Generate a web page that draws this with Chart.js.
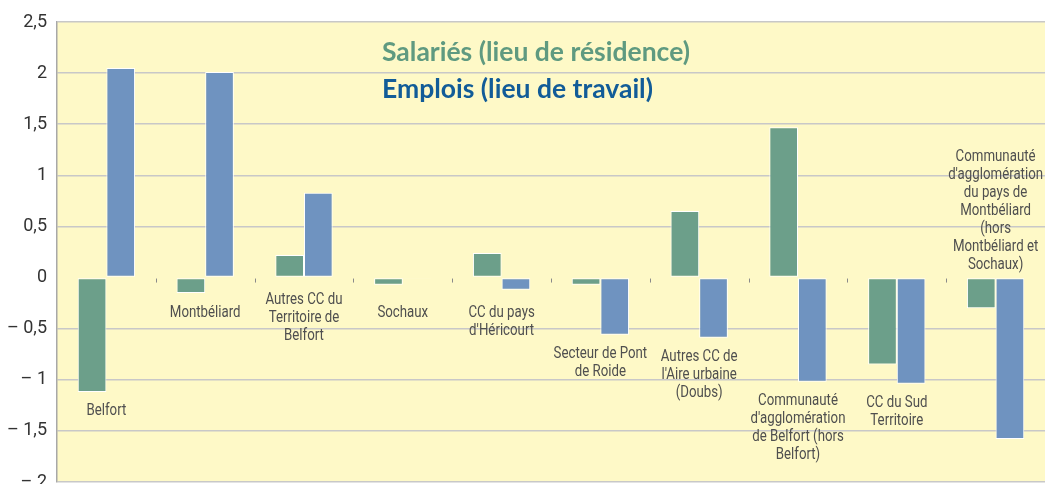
<!DOCTYPE html>
<html><head><meta charset="utf-8">
<script src="https://cdn.jsdelivr.net/npm/chart.js@4.4.0/dist/chart.umd.min.js"></script>
<style>html,body{margin:0;padding:0;background:#fff;overflow:hidden}canvas{display:block}</style>
</head><body><canvas id="c" width="1045" height="484" style="width:1045px;height:484px"></canvas>
<script>
const categories = [
  ["Belfort"],
  ["Montbéliard"],
  ["Autres CC du","Territoire de","Belfort"],
  ["Sochaux"],
  ["CC du pays","d'Héricourt"],
  ["Secteur de Pont","de Roide"],
  ["Autres CC de","l'Aire urbaine","(Doubs)"],
  ["Communauté","d'agglomération","de Belfort (hors","Belfort)"],
  ["CC du Sud","Territoire"],
  ["Communauté","d'agglomération","du pays de","Montbéliard","(hors","Montbéliard et","Sochaux)"]
];
const salaries = [-1.12, -0.15, 0.22, -0.07, 0.24, -0.07, 0.65, 1.47, -0.85, -0.30];
const emplois  = [ 2.05,  2.01, 0.83, -0.01, -0.12, -0.56, -0.59, -1.02, -1.04, -1.58];
const seriesNames = ["Salariés (lieu de résidence)", "Emplois (lieu de travail)"];
const yMin = -2, yMax = 2.5, yStep = 0.5;

const GREEN = '#6c9f8a', BLUE = '#6f93c0';
const LEG_GREEN = '#5f9a80', LEG_BLUE = '#125c98';
const LABEL_FONT = 'Roboto, sans-serif';
const CONDENSE = 0.78;

function fmt(v){
  const s = Math.abs(v).toString().replace('.', ',');
  return v < 0 ? '– ' + s : s;
}

const bgPlugin = {
  id: 'bg',
  beforeDraw(chart){
    const {ctx, chartArea:a} = chart;
    ctx.save();
    ctx.fillStyle = '#fef9c7';
    ctx.fillRect(a.left, a.top, a.right - a.left, a.bottom - a.top);
    ctx.restore();
  }
};

const labelPlugin = {
  id: 'labels',
  afterDatasetsDraw(chart){
    const {ctx, chartArea:a, scales} = chart;
    const x = scales.x, y = scales.y;
    ctx.save();
    ctx.strokeStyle = '#8a8a8a';
    ctx.lineWidth = 1;
    const y0 = y.getPixelForValue(0);
    for (let i = 1; i < categories.length; i++){
      const px = Math.round((x.getPixelForValue(i-1) + x.getPixelForValue(i)) / 2) + 0.5;
      ctx.beginPath(); ctx.moveTo(px, y0 + 1); ctx.lineTo(px, y0 + 5); ctx.stroke();
    }
    ctx.fillStyle = '#4f4f4f';
    ctx.font = '17px ' + LABEL_FONT;
    ctx.textAlign = 'center';
    ctx.textBaseline = 'middle';
    const lh = 18;
    categories.forEach((lines, i) => {
      const cx = x.getPixelForValue(i);
      const mn = Math.min(0, salaries[i], emplois[i]);
      const mx = Math.max(0, salaries[i], emplois[i]);
      let top = Math.max(y.getPixelForValue(mn) + 10, y0 + (mn === 0 ? 13 : 26));
      if (top + lines.length * lh > a.bottom) {
        top = y.getPixelForValue(mx) - 4 - lines.length * lh;
      }
      lines.forEach((t, k) => {
        ctx.save();
        ctx.translate(cx, top + lh * k + lh / 2);
        ctx.scale(CONDENSE, 1);
        ctx.fillText(t, 0, 0);
        ctx.restore();
      });
    });
    ctx.textAlign = 'left';
    let fs = 22;
    ctx.font = 'bold ' + fs + 'px Lato, sans-serif';
    const w = ctx.measureText(seriesNames[0]).width;
    fs = fs * 308 / w;
    ctx.font = 'bold ' + fs.toFixed(2) + 'px Lato, sans-serif';
    ctx.fillStyle = LEG_GREEN;
    ctx.fillText(seriesNames[0], 382, 52);
    ctx.fillStyle = LEG_BLUE;
    ctx.fillText(seriesNames[1], 382, 89);
    ctx.restore();
  }
};

new Chart(document.getElementById('c'), {
  type: 'bar',
  data: {
    labels: categories,
    datasets: [
      { label: seriesNames[0], data: salaries, backgroundColor: GREEN, borderColor: '#ffffff', borderWidth: 1, borderSkipped: false,
        categoryPercentage: 0.58, barPercentage: 1.0 },
      { label: seriesNames[1], data: emplois, backgroundColor: BLUE, borderColor: '#ffffff', borderWidth: 1, borderSkipped: false,
        categoryPercentage: 0.58, barPercentage: 1.0 }
    ]
  },
  options: {
    responsive: false,
    animation: false,
    layout: { padding: { top: 22, right: 0, bottom: 2, left: 0 } },
    plugins: { legend: { display: false }, tooltip: { enabled: false } },
    scales: {
      x: { display: false },
      y: {
        min: yMin, max: yMax,
        ticks: { stepSize: yStep, callback: v => fmt(v), color: '#333', padding: 10,
                 font: { family: 'Roboto, sans-serif', size: 18 } },
        grid: { drawTicks: false, color: c => (c.tick && c.tick.value === 0) ? 'rgba(0,0,0,0)' : '#c8c8c8', lineWidth: 1.5 },
        border: { display: true, color: '#a8a8a8', width: 1.5 },
        afterFit(s){ s.width = 57; s.paddingTop = 0; s.paddingBottom = 0; }
      }
    }
  },
  plugins: [bgPlugin, labelPlugin]
});
</script>
</body></html>
